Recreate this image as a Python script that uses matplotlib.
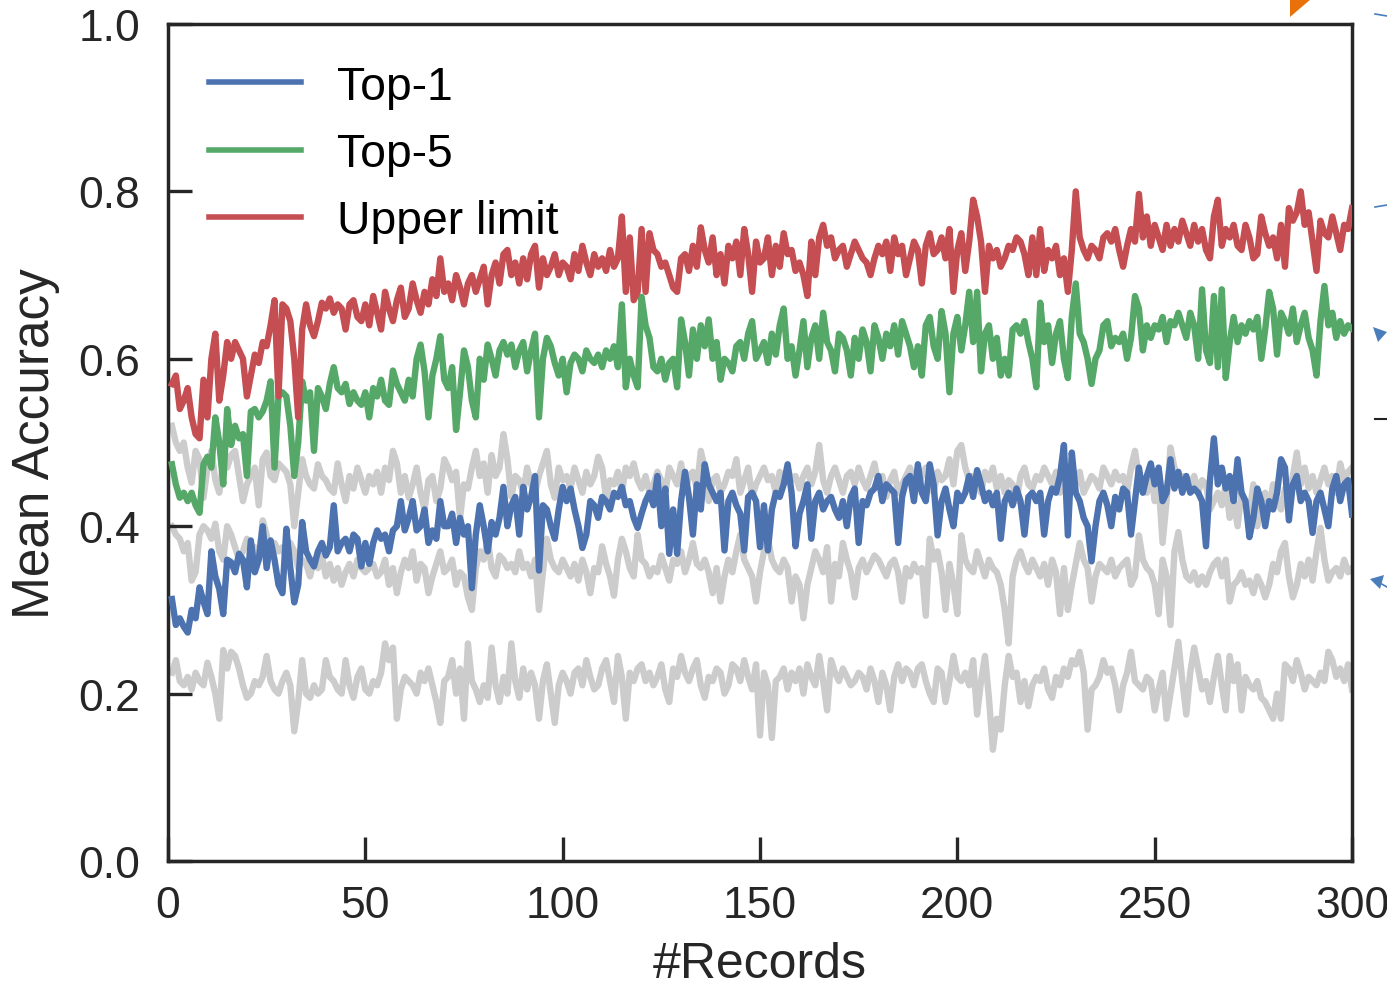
import numpy as np
import matplotlib
matplotlib.use("Agg")
import matplotlib.pyplot as plt
from matplotlib.patches import Polygon
from matplotlib.lines import Line2D

plt.rcParams['font.family'] = ['Liberation Sans', 'DejaVu Sans']

# # values, one per record
upper_limit = [
    0.57, 0.58, 0.54, 0.55, 0.565, 0.53, 0.51, 0.505, 0.575, 0.53,
    0.60, 0.63, 0.55, 0.58, 0.62, 0.60, 0.62, 0.61, 0.60, 0.555,
    0.58, 0.605, 0.595, 0.62, 0.615, 0.64, 0.67, 0.555, 0.665, 0.66,
    0.645, 0.60, 0.53, 0.635, 0.665, 0.64, 0.627, 0.645, 0.667, 0.66,
    0.672, 0.655, 0.665, 0.66, 0.635, 0.665, 0.67, 0.65, 0.645, 0.665,
    0.64, 0.675, 0.655, 0.635, 0.68, 0.66, 0.645, 0.67, 0.685, 0.65,
    0.66, 0.69, 0.67, 0.655, 0.68, 0.665, 0.695, 0.675, 0.72, 0.68,
    0.69, 0.67, 0.70, 0.685, 0.665, 0.69, 0.70, 0.68, 0.695, 0.71,
    0.665, 0.70, 0.715, 0.69, 0.725, 0.73, 0.70, 0.715, 0.69, 0.72,
    0.695, 0.725, 0.735, 0.685, 0.72, 0.70, 0.71, 0.725, 0.70, 0.715,
    0.71, 0.695, 0.725, 0.705, 0.735, 0.715, 0.70, 0.725, 0.71, 0.72,
    0.705, 0.73, 0.71, 0.72, 0.77, 0.68, 0.745, 0.67, 0.68, 0.755,
    0.68, 0.75, 0.73, 0.725, 0.71, 0.715, 0.70, 0.685, 0.68, 0.72,
    0.725, 0.705, 0.735, 0.71, 0.757, 0.73, 0.715, 0.745, 0.70, 0.725,
    0.69, 0.735, 0.72, 0.74, 0.70, 0.755, 0.725, 0.68, 0.74, 0.715,
    0.72, 0.745, 0.70, 0.735, 0.71, 0.75, 0.725, 0.73, 0.705, 0.715,
    0.70, 0.675, 0.74, 0.70, 0.745, 0.76, 0.735, 0.745, 0.72, 0.73,
    0.735, 0.71, 0.725, 0.74, 0.73, 0.72, 0.715, 0.70, 0.72, 0.735,
    0.725, 0.74, 0.705, 0.745, 0.725, 0.735, 0.70, 0.72, 0.74, 0.73,
    0.69, 0.735, 0.75, 0.725, 0.73, 0.745, 0.72, 0.755, 0.68, 0.73,
    0.75, 0.705, 0.74, 0.79, 0.77, 0.74, 0.68, 0.735, 0.72, 0.73,
    0.71, 0.72, 0.735, 0.73, 0.745, 0.74, 0.725, 0.70, 0.745, 0.70,
    0.755, 0.705, 0.73, 0.72, 0.735, 0.70, 0.72, 0.68, 0.73, 0.80,
    0.745, 0.73, 0.72, 0.735, 0.73, 0.72, 0.745, 0.75, 0.74, 0.755,
    0.73, 0.71, 0.735, 0.755, 0.74, 0.797, 0.745, 0.77, 0.735, 0.76,
    0.745, 0.73, 0.76, 0.735, 0.755, 0.74, 0.765, 0.75, 0.735, 0.76,
    0.74, 0.755, 0.73, 0.72, 0.77, 0.79, 0.735, 0.755, 0.745, 0.76,
    0.735, 0.73, 0.76, 0.745, 0.72, 0.725, 0.77, 0.75, 0.735, 0.745,
    0.72, 0.76, 0.71, 0.78, 0.765, 0.775, 0.80, 0.76, 0.775, 0.74,
    0.705, 0.765, 0.75, 0.745, 0.77, 0.75, 0.73, 0.76, 0.755, 0.78,
]

top5 = [
    0.474, 0.45, 0.434, 0.44, 0.43, 0.44, 0.425, 0.416, 0.474, 0.483,
    0.47, 0.53, 0.50, 0.45, 0.54, 0.497, 0.52, 0.505, 0.51, 0.46,
    0.537, 0.54, 0.53, 0.537, 0.55, 0.573, 0.47, 0.555, 0.56, 0.555,
    0.52, 0.46, 0.50, 0.573, 0.55, 0.56, 0.49, 0.565, 0.555, 0.54,
    0.57, 0.59, 0.565, 0.56, 0.57, 0.546, 0.56, 0.55, 0.545, 0.56,
    0.53, 0.565, 0.555, 0.575, 0.55, 0.545, 0.586, 0.57, 0.56, 0.55,
    0.575, 0.555, 0.60, 0.617, 0.585, 0.53, 0.58, 0.60, 0.627, 0.575,
    0.565, 0.59, 0.515, 0.56, 0.61, 0.59, 0.55, 0.53, 0.60, 0.575,
    0.617, 0.60, 0.58, 0.61, 0.62, 0.605, 0.617, 0.59, 0.61, 0.62,
    0.585, 0.61, 0.63, 0.53, 0.60, 0.625, 0.615, 0.595, 0.58, 0.60,
    0.56, 0.595, 0.605, 0.60, 0.585, 0.61, 0.60, 0.595, 0.605, 0.59,
    0.61, 0.60, 0.615, 0.59, 0.665, 0.566, 0.60, 0.58, 0.566, 0.674,
    0.64, 0.625, 0.59, 0.585, 0.60, 0.575, 0.595, 0.60, 0.566, 0.647,
    0.62, 0.58, 0.635, 0.60, 0.64, 0.615, 0.647, 0.60, 0.62, 0.575,
    0.60, 0.595, 0.585, 0.615, 0.62, 0.60, 0.63, 0.645, 0.60, 0.61,
    0.62, 0.595, 0.63, 0.605, 0.64, 0.66, 0.60, 0.615, 0.58, 0.61,
    0.645, 0.59, 0.625, 0.64, 0.60, 0.655, 0.62, 0.61, 0.585, 0.63,
    0.625, 0.61, 0.58, 0.625, 0.60, 0.635, 0.62, 0.585, 0.64, 0.625,
    0.60, 0.63, 0.615, 0.64, 0.605, 0.645, 0.63, 0.615, 0.59, 0.615,
    0.58, 0.64, 0.65, 0.615, 0.60, 0.657, 0.63, 0.56, 0.63, 0.65,
    0.61, 0.64, 0.68, 0.62, 0.68, 0.585, 0.63, 0.64, 0.60, 0.625,
    0.58, 0.60, 0.58, 0.635, 0.64, 0.63, 0.645, 0.62, 0.60, 0.566,
    0.667, 0.62, 0.64, 0.595, 0.63, 0.645, 0.60, 0.577, 0.65, 0.69,
    0.63, 0.62, 0.60, 0.57, 0.60, 0.61, 0.64, 0.645, 0.615, 0.625,
    0.62, 0.63, 0.60, 0.625, 0.675, 0.66, 0.61, 0.64, 0.625, 0.64,
    0.635, 0.65, 0.62, 0.645, 0.64, 0.655, 0.64, 0.625, 0.655, 0.64,
    0.60, 0.683, 0.61, 0.595, 0.675, 0.59, 0.683, 0.577, 0.62, 0.65,
    0.62, 0.64, 0.63, 0.645, 0.635, 0.65, 0.60, 0.635, 0.68, 0.66,
    0.605, 0.655, 0.645, 0.63, 0.66, 0.62, 0.64, 0.655, 0.625, 0.61,
    0.58, 0.645, 0.687, 0.64, 0.655, 0.625, 0.645, 0.63, 0.64, 0.636,
]

top1 = [
    0.313, 0.282, 0.29, 0.28, 0.273, 0.30, 0.29, 0.327, 0.31, 0.295,
    0.37, 0.34, 0.325, 0.295, 0.36, 0.357, 0.345, 0.367, 0.36, 0.327,
    0.383, 0.345, 0.36, 0.40, 0.35, 0.383, 0.36, 0.33, 0.32, 0.397,
    0.35, 0.309, 0.33, 0.405, 0.37, 0.36, 0.352, 0.37, 0.38, 0.365,
    0.375, 0.425, 0.37, 0.38, 0.385, 0.37, 0.39, 0.385, 0.352, 0.38,
    0.355, 0.38, 0.395, 0.385, 0.39, 0.37, 0.395, 0.40, 0.43, 0.395,
    0.41, 0.43, 0.395, 0.40, 0.42, 0.38, 0.395, 0.385, 0.43, 0.40,
    0.40, 0.415, 0.38, 0.41, 0.39, 0.40, 0.326, 0.39, 0.425, 0.40,
    0.37, 0.405, 0.39, 0.41, 0.447, 0.40, 0.425, 0.435, 0.39, 0.447,
    0.42, 0.435, 0.46, 0.347, 0.425, 0.42, 0.40, 0.385, 0.42, 0.447,
    0.43, 0.445, 0.42, 0.40, 0.374, 0.39, 0.43, 0.425, 0.41, 0.435,
    0.43, 0.42, 0.44, 0.435, 0.447, 0.425, 0.43, 0.41, 0.398, 0.415,
    0.43, 0.44, 0.425, 0.46, 0.40, 0.445, 0.367, 0.42, 0.367, 0.43,
    0.465, 0.435, 0.39, 0.45, 0.42, 0.474, 0.45, 0.44, 0.43, 0.44,
    0.371, 0.43, 0.44, 0.425, 0.415, 0.371, 0.435, 0.44, 0.43, 0.375,
    0.425, 0.371, 0.42, 0.44, 0.435, 0.45, 0.474, 0.44, 0.376, 0.415,
    0.43, 0.45, 0.385, 0.43, 0.44, 0.42, 0.43, 0.435, 0.42, 0.41,
    0.43, 0.40, 0.435, 0.445, 0.38, 0.43, 0.425, 0.44, 0.445, 0.46,
    0.43, 0.45, 0.445, 0.44, 0.38, 0.435, 0.455, 0.46, 0.43, 0.474,
    0.44, 0.43, 0.474, 0.45, 0.389, 0.43, 0.445, 0.42, 0.40, 0.44,
    0.43, 0.44, 0.46, 0.435, 0.467, 0.45, 0.43, 0.44, 0.425, 0.44,
    0.385, 0.43, 0.44, 0.425, 0.445, 0.43, 0.39, 0.435, 0.44, 0.43,
    0.44, 0.39, 0.43, 0.445, 0.44, 0.46, 0.497, 0.389, 0.488, 0.44,
    0.43, 0.41, 0.40, 0.358, 0.40, 0.43, 0.44, 0.425, 0.40, 0.435,
    0.42, 0.445, 0.44, 0.39, 0.43, 0.47, 0.44, 0.46, 0.475, 0.45,
    0.47, 0.43, 0.44, 0.48, 0.445, 0.465, 0.44, 0.46, 0.44, 0.445,
    0.44, 0.43, 0.376, 0.455, 0.505, 0.45, 0.47, 0.445, 0.46, 0.43,
    0.48, 0.44, 0.43, 0.387, 0.41, 0.445, 0.43, 0.40, 0.43, 0.42,
    0.44, 0.48, 0.47, 0.407, 0.45, 0.46, 0.43, 0.44, 0.43, 0.392,
    0.43, 0.44, 0.42, 0.40, 0.445, 0.46, 0.43, 0.45, 0.455, 0.414,
]

# grey reference curves (no legend entry)
grey_high = [
    0.52, 0.50, 0.49, 0.50, 0.47, 0.452, 0.49, 0.48, 0.434, 0.47,
    0.49, 0.455, 0.44, 0.475, 0.47, 0.485, 0.49, 0.46, 0.43, 0.45,
    0.46, 0.47, 0.425, 0.48, 0.488, 0.46, 0.455, 0.475, 0.47, 0.465,
    0.45, 0.40, 0.44, 0.48, 0.46, 0.45, 0.445, 0.474, 0.46, 0.455,
    0.445, 0.44, 0.475, 0.45, 0.43, 0.46, 0.445, 0.47, 0.455, 0.44,
    0.46, 0.45, 0.465, 0.44, 0.47, 0.455, 0.49, 0.475, 0.44, 0.46,
    0.434, 0.45, 0.47, 0.44, 0.42, 0.455, 0.46, 0.43, 0.445, 0.48,
    0.47, 0.455, 0.465, 0.41, 0.45, 0.445, 0.47, 0.49, 0.46, 0.475,
    0.44, 0.485, 0.46, 0.47, 0.51, 0.48, 0.435, 0.46, 0.455, 0.44,
    0.47, 0.45, 0.44, 0.46, 0.475, 0.49, 0.45, 0.434, 0.47, 0.455,
    0.46, 0.445, 0.47, 0.455, 0.44, 0.465, 0.45, 0.46, 0.483, 0.47,
    0.434, 0.455, 0.45, 0.465, 0.44, 0.47, 0.46, 0.475, 0.455, 0.445,
    0.46, 0.44, 0.45, 0.465, 0.455, 0.44, 0.47, 0.46, 0.45, 0.475,
    0.44, 0.46, 0.465, 0.445, 0.49, 0.47, 0.43, 0.455, 0.46, 0.44,
    0.45, 0.465, 0.46, 0.48, 0.44, 0.455, 0.47, 0.435, 0.45, 0.46,
    0.47, 0.455, 0.46, 0.44, 0.465, 0.45, 0.47, 0.455, 0.46, 0.445,
    0.46, 0.47, 0.45, 0.465, 0.497, 0.455, 0.44, 0.46, 0.47, 0.455,
    0.44, 0.46, 0.465, 0.45, 0.47, 0.455, 0.445, 0.46, 0.475, 0.45,
    0.46, 0.435, 0.455, 0.465, 0.44, 0.45, 0.46, 0.47, 0.455, 0.445,
    0.46, 0.47, 0.45, 0.44, 0.465, 0.455, 0.46, 0.48, 0.45, 0.49,
    0.497, 0.47, 0.455, 0.46, 0.45, 0.44, 0.465, 0.455, 0.47, 0.445,
    0.46, 0.44, 0.455, 0.45, 0.43, 0.46, 0.47, 0.45, 0.445, 0.46,
    0.455, 0.47, 0.46, 0.45, 0.465, 0.44, 0.455, 0.46, 0.475, 0.45,
    0.465, 0.44, 0.45, 0.46, 0.455, 0.445, 0.47, 0.46, 0.45, 0.465,
    0.455, 0.46, 0.44, 0.47, 0.49, 0.46, 0.45, 0.44, 0.465, 0.43,
    0.45, 0.38, 0.43, 0.494, 0.47, 0.455, 0.46, 0.445, 0.45, 0.46,
    0.44, 0.455, 0.45, 0.42, 0.43, 0.44, 0.425, 0.45, 0.41, 0.43,
    0.40, 0.44, 0.43, 0.415, 0.45, 0.40, 0.435, 0.44, 0.42, 0.45,
    0.43, 0.42, 0.445, 0.44, 0.46, 0.488, 0.45, 0.47, 0.445, 0.46,
    0.44, 0.455, 0.47, 0.45, 0.46, 0.44, 0.475, 0.455, 0.465, 0.47,
]

grey_mid = [
    0.40, 0.39, 0.385, 0.37, 0.38, 0.335, 0.345, 0.39, 0.40, 0.395,
    0.385, 0.403, 0.37, 0.36, 0.40, 0.39, 0.375, 0.36, 0.37, 0.385,
    0.37, 0.375, 0.36, 0.407, 0.39, 0.365, 0.38, 0.37, 0.375, 0.36,
    0.38, 0.37, 0.35, 0.36, 0.355, 0.34, 0.36, 0.35, 0.365, 0.34,
    0.355, 0.335, 0.35, 0.33, 0.345, 0.355, 0.34, 0.36, 0.35, 0.345,
    0.35, 0.355, 0.34, 0.345, 0.36, 0.33, 0.35, 0.32, 0.345, 0.36,
    0.35, 0.37, 0.335, 0.355, 0.35, 0.32, 0.34, 0.355, 0.37, 0.345,
    0.35, 0.36, 0.33, 0.345, 0.34, 0.315, 0.30, 0.35, 0.37, 0.36,
    0.385, 0.35, 0.34, 0.365, 0.36, 0.35, 0.355, 0.345, 0.37, 0.35,
    0.355, 0.34, 0.36, 0.30, 0.345, 0.385, 0.36, 0.35, 0.345, 0.36,
    0.35, 0.34, 0.355, 0.335, 0.36, 0.345, 0.32, 0.35, 0.345, 0.376,
    0.355, 0.34, 0.317, 0.36, 0.385, 0.37, 0.35, 0.34, 0.39, 0.36,
    0.355, 0.34, 0.35, 0.345, 0.365, 0.35, 0.335, 0.36, 0.355, 0.37,
    0.345, 0.36, 0.38, 0.355, 0.35, 0.36, 0.345, 0.32, 0.35, 0.31,
    0.34, 0.36, 0.345, 0.37, 0.39, 0.36, 0.35, 0.34, 0.31, 0.345,
    0.37, 0.385, 0.36, 0.35, 0.345, 0.36, 0.35, 0.31, 0.34, 0.33,
    0.29, 0.33, 0.35, 0.37, 0.36, 0.345, 0.375, 0.31, 0.355, 0.34,
    0.38, 0.36, 0.345, 0.315, 0.35, 0.36, 0.345, 0.355, 0.365, 0.36,
    0.35, 0.34, 0.355, 0.36, 0.345, 0.31, 0.35, 0.34, 0.355, 0.345,
    0.35, 0.293, 0.385, 0.36, 0.37, 0.345, 0.30, 0.355, 0.33, 0.295,
    0.389, 0.36, 0.35, 0.345, 0.37, 0.355, 0.34, 0.36, 0.35, 0.345,
    0.33, 0.30, 0.26, 0.34, 0.36, 0.37, 0.355, 0.345, 0.36, 0.35,
    0.34, 0.355, 0.33, 0.36, 0.345, 0.295, 0.35, 0.30, 0.33, 0.355,
    0.38, 0.36, 0.35, 0.31, 0.34, 0.355, 0.35, 0.345, 0.36, 0.34,
    0.35, 0.355, 0.36, 0.33, 0.34, 0.389, 0.36, 0.35, 0.345, 0.33,
    0.295, 0.36, 0.34, 0.282, 0.37, 0.393, 0.36, 0.34, 0.335, 0.345,
    0.33, 0.34, 0.33, 0.345, 0.355, 0.36, 0.34, 0.36, 0.31, 0.33,
    0.335, 0.345, 0.33, 0.335, 0.32, 0.34, 0.33, 0.315, 0.33, 0.355,
    0.345, 0.37, 0.38, 0.34, 0.315, 0.33, 0.355, 0.34, 0.36, 0.335,
    0.37, 0.398, 0.36, 0.335, 0.345, 0.35, 0.34, 0.36, 0.345, 0.35,
]

grey_low = [
    0.225, 0.24, 0.215, 0.21, 0.22, 0.205, 0.225, 0.215, 0.21, 0.237,
    0.22, 0.20, 0.17, 0.252, 0.23, 0.25, 0.245, 0.23, 0.21, 0.195,
    0.20, 0.215, 0.21, 0.22, 0.245, 0.215, 0.205, 0.20, 0.215, 0.225,
    0.21, 0.155, 0.19, 0.24, 0.20, 0.195, 0.21, 0.20, 0.205, 0.24,
    0.22, 0.215, 0.205, 0.20, 0.24, 0.21, 0.195, 0.22, 0.23, 0.205,
    0.20, 0.215, 0.21, 0.225, 0.26, 0.24, 0.255, 0.17, 0.205, 0.22,
    0.215, 0.21, 0.20, 0.225, 0.215, 0.23, 0.21, 0.19, 0.165, 0.215,
    0.22, 0.24, 0.20, 0.23, 0.17, 0.26, 0.215, 0.205, 0.19, 0.21,
    0.195, 0.255, 0.21, 0.19, 0.22, 0.20, 0.26, 0.215, 0.195, 0.23,
    0.205, 0.225, 0.21, 0.17, 0.215, 0.235, 0.20, 0.165, 0.21, 0.225,
    0.215, 0.20, 0.225, 0.23, 0.21, 0.24, 0.22, 0.205, 0.21, 0.23,
    0.24, 0.215, 0.19, 0.245, 0.22, 0.17, 0.225, 0.215, 0.23, 0.235,
    0.215, 0.225, 0.21, 0.22, 0.235, 0.205, 0.19, 0.23, 0.22, 0.245,
    0.225, 0.215, 0.23, 0.24, 0.21, 0.195, 0.22, 0.215, 0.23, 0.225,
    0.20, 0.21, 0.235, 0.23, 0.215, 0.24, 0.22, 0.205, 0.235, 0.15,
    0.225, 0.21, 0.147, 0.215, 0.22, 0.23, 0.205, 0.225, 0.215, 0.23,
    0.20, 0.235, 0.22, 0.21, 0.245, 0.215, 0.18, 0.24, 0.225, 0.215,
    0.23, 0.22, 0.21, 0.215, 0.225, 0.22, 0.205, 0.23, 0.215, 0.19,
    0.225, 0.21, 0.18, 0.22, 0.235, 0.215, 0.23, 0.225, 0.21, 0.23,
    0.235, 0.215, 0.20, 0.19, 0.23, 0.225, 0.19, 0.215, 0.245, 0.22,
    0.215, 0.225, 0.21, 0.24, 0.175, 0.215, 0.245, 0.195, 0.133, 0.17,
    0.157, 0.21, 0.245, 0.22, 0.225, 0.19, 0.215, 0.185, 0.21, 0.22,
    0.215, 0.23, 0.205, 0.195, 0.22, 0.21, 0.23, 0.22, 0.24, 0.235,
    0.25, 0.225, 0.157, 0.205, 0.21, 0.22, 0.24, 0.225, 0.23, 0.21,
    0.18, 0.21, 0.225, 0.25, 0.215, 0.21, 0.205, 0.22, 0.215, 0.18,
    0.205, 0.225, 0.17, 0.20, 0.23, 0.262, 0.215, 0.175, 0.225, 0.255,
    0.23, 0.205, 0.215, 0.19, 0.22, 0.245, 0.21, 0.18, 0.245, 0.215,
    0.235, 0.18, 0.22, 0.21, 0.205, 0.215, 0.195, 0.19, 0.18, 0.17,
    0.20, 0.17, 0.235, 0.23, 0.215, 0.24, 0.225, 0.205, 0.22, 0.215,
    0.21, 0.225, 0.215, 0.25, 0.24, 0.22, 0.23, 0.215, 0.235, 0.205,
]

records = np.arange(1, len(top1) + 1)

fig = plt.figure(figsize=(13.87, 9.87), dpi=100)
ax = fig.add_axes([0.1211, 0.1266, 0.8537, 0.8481])

lw = 4.6
for g in (grey_high, grey_mid, grey_low):
    ax.plot(records, g, color='#cccccc', lw=lw, zorder=1)
ax.plot(records, top1, color='#4c72b0', lw=lw, label='Top-1', zorder=3)
ax.plot(records, top5, color='#55a868', lw=lw, label='Top-5', zorder=3)
ax.plot(records, upper_limit, color='#c44e52', lw=lw, label='Upper limit', zorder=3)

ax.set_xlim(0, 300)
ax.set_ylim(0, 1.0)
ax.set_xticks([0, 50, 100, 150, 200, 250, 300])
ax.set_yticks([0.0, 0.2, 0.4, 0.6, 0.8, 1.0])
ax.set_yticklabels(['0.0', '0.2', '0.4', '0.6', '0.8', '1.0'])

ax.tick_params(direction='in', length=17, width=2.4, labelsize=32,
               colors='#262626', top=False, right=False)
ax.tick_params(axis='y', pad=20)
ax.tick_params(axis='x', pad=17)
for s in ax.spines.values():
    s.set_linewidth(2.5)
    s.set_color('#262626')

ax.set_xlabel('#Records', fontsize=36, color='#262626', labelpad=11)
ax.set_ylabel('Mean Accuracy', fontsize=37, color='#262626', labelpad=13)

leg = ax.legend(loc='upper left', frameon=False, fontsize=33.3, handlelength=2.0,
                handletextpad=0.78, labelspacing=0.5, borderaxespad=0.48)
for h in leg.get_lines():
    h.set_linewidth(4.0)

# clipped bits of a neighbouring figure at the right edge
W, H = 1387.0, 987.0
def px(x, y):
    return (x / W, 1 - y / H)

fig.add_artist(Polygon([px(1290, 0), px(1311, 0), px(1290, 18)], closed=True,
                       transform=fig.transFigure, color='#e8710a', lw=0))
for y0, y1 in ((15, 17), (208, 206)):
    fig.add_artist(Line2D([1375 / W, 1387 / W], [1 - y0 / H, 1 - y1 / H],
                          transform=fig.transFigure, color='#4a7ebb', lw=1.2))
fig.add_artist(Line2D([1375 / W, 1387 / W], [1 - 420 / H, 1 - 420 / H],
                      transform=fig.transFigure, color='#222222', lw=1.5))
fig.add_artist(Polygon([px(1373, 328), px(1387, 333), px(1378, 343)], closed=True,
                       transform=fig.transFigure, color='#4a7ebb', lw=0))
fig.add_artist(Polygon([px(1370, 580), px(1384, 576), px(1380, 590)], closed=True,
                       transform=fig.transFigure, color='#4a7ebb', lw=0))
fig.add_artist(Line2D([1378 / W, 1387 / W], [1 - 583 / H, 1 - 588 / H],
                      transform=fig.transFigure, color='#4a7ebb', lw=1.2))

fig.savefig('out.png', dpi=100)
